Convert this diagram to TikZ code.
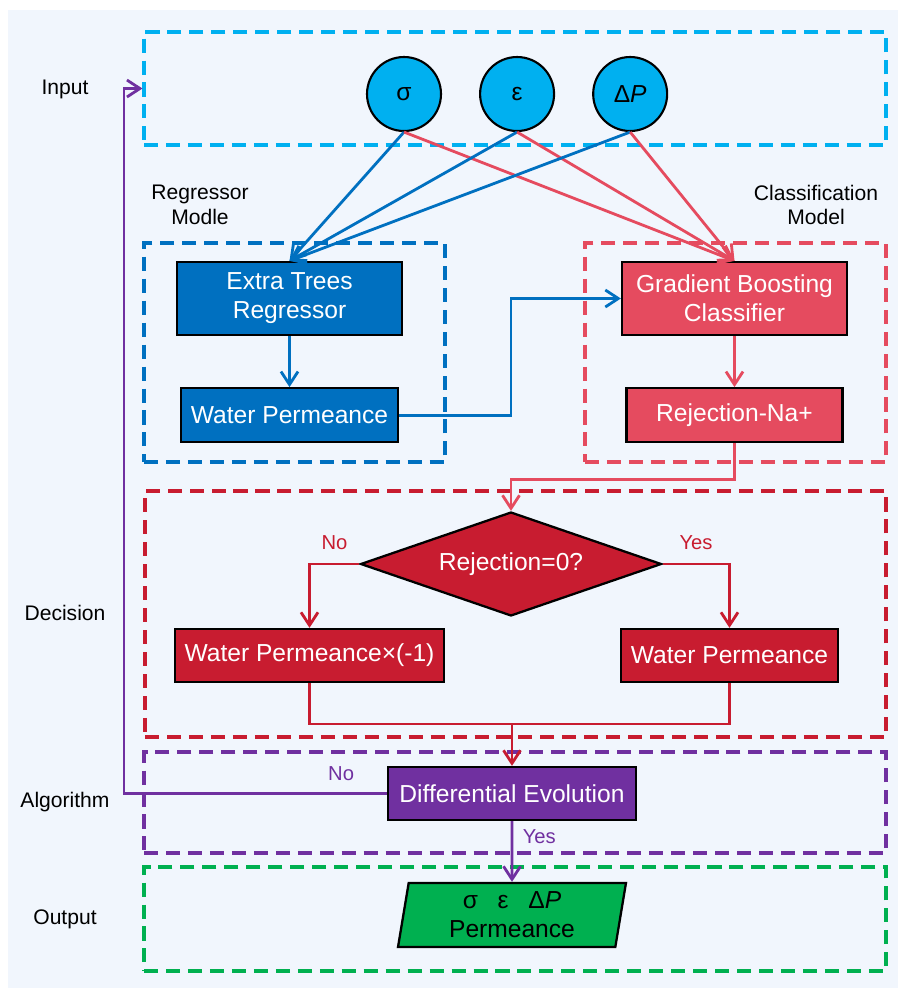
\documentclass[tikz,border=0pt]{standalone}
\usepackage{fontspec}
\setmainfont{Liberation Sans}
\usetikzlibrary{arrows.meta, positioning, shapes.geometric, calc}
\definecolor{cbg}{HTML}{F1F6FD}
\definecolor{cin}{HTML}{00B0F0}
\definecolor{creg}{HTML}{0070C0}
\definecolor{ccls}{HTML}{E54B5F}
\definecolor{cdec}{HTML}{C81C30}
\definecolor{calg}{HTML}{7030A0}
\definecolor{cout}{HTML}{00B050}

\begin{document}
\begin{tikzpicture}[
  x=0.02cm, y=-0.02cm,
  >={Straight Barb[length=2.6mm, width=3.4mm]},
  grp/.style={draw, dash pattern=on 8pt off 4.5pt, line width=1.8pt, inner sep=0pt},
  box/.style={draw=black, line width=1.3pt, text=white, align=center, inner sep=0pt,
              font=\fontsize{14}{16.5}\selectfont},
  var/.style={circle, draw=black, line width=1.2pt, fill=cin, minimum size=1.48cm,
              inner sep=0pt, font=\fontsize{14}{16.5}\selectfont},
  tag/.style={align=center, font=\fontsize{12}{14}\selectfont},
  yn/.style={font=\fontsize{11.5}{13}\selectfont},
  arr/.style={->, line width=1.6pt},
  ]
\useasboundingbox (0,0) rectangle (898,988);
\fill[cbg] (8,10) rectangle (898,988);

\node[grp, draw=cin, minimum width=14.84cm, minimum height=2.26cm] (inbox) at (515,88.5) {};
\node[grp, draw=creg, minimum width=6.02cm, minimum height=4.38cm] (regbox) at (294.5,352.5) {};
\node[grp, draw=ccls, minimum width=6.02cm, minimum height=4.38cm] (clsbox) at (735.5,352.5) {};
\node[grp, draw=cdec, minimum width=14.82cm, minimum height=4.92cm] (decbox) at (515.5,614) {};
\node[grp, draw=calg, minimum width=14.84cm, minimum height=2.02cm] (algbox) at (515,802.5) {};
\node[grp, draw=cout, minimum width=14.84cm, minimum height=2.08cm] (outbox) at (515,919) {};

\node[tag] (tin) at (65,89) {Input};
\node[tag] (treg) at (200,205) {Regressor\\Modle};
\node[tag] (tcls) at (816,205) {Classification\\Model};
\node[tag] (tdec) at (65,613) {Decision};
\node[tag] (talg) at (65,802) {Algorithm};
\node[tag] (tout) at (65,919) {Output};

\node[var] (sig) at (404,94) {σ};
\node[var, right=0.74cm of sig] (eps) {ε};
\node[var, right=0.74cm of eps] (dp) {Δ\textit{P}};

\node[box, fill=creg, minimum width=4.5cm, minimum height=1.46cm] (etr) at (289.5,298.5) {Extra Trees\\Regressor};
\node[box, fill=creg, minimum width=4.34cm, minimum height=1.08cm, below=1.02cm of etr] (wpr) {Water Permeance};
\node[box, fill=ccls, minimum width=4.5cm, minimum height=1.46cm] (gbc) at (734.5,298.5) {Gradient Boosting\\Classifier};
\node[box, fill=ccls, minimum width=4.32cm, minimum height=1.08cm, below=1.02cm of gbc] (rej) {Rejection-Na+};

\node[box, diamond, aspect=2.9, fill=cdec, minimum width=6.02cm, minimum height=2.08cm] (dec) at (511,564) {Rejection=0?};
\node[box, fill=cdec, minimum width=5.38cm, minimum height=1.06cm] (wpneg) at (309.5,655.5) {Water Permeance×(-1)};
\node[box, fill=cdec, minimum width=4.34cm, minimum height=1.06cm] (wpd) at (729.5,655.5) {Water Permeance};
\node[box, fill=calg, minimum width=4.96cm, minimum height=1.06cm] (de) at (512,793.5) {Differential Evolution};
\node[box, trapezium, trapezium left angle=77, trapezium right angle=103, trapezium stretches body,
      fill=cout, text=black, minimum width=4.56cm, minimum height=1.28cm] (res) at (512,915)
      {σ\hspace{0.8em}ε\hspace{0.8em}Δ\textit{P}\\Permeance};

\coordinate (join) at (512,724);
\coordinate (back) at (124,88.5);

\foreach \v in {sig, eps, dp} {
  \draw[arr, creg] (\v.south) -- (etr.north);
  \draw[arr, ccls] (\v.south) -- (gbc.north);
}
\draw[arr, creg] (etr) -- (wpr);
\draw[arr, creg] (wpr.east) -- (wpr.east -| dec.north) |- (gbc.west);
\draw[arr, ccls] (gbc) -- (rej);
\draw[arr, ccls] (rej.south) -- ++(0,36) -| (dec.north);
\draw[arr, cdec] (dec.west) -| node[yn, pos=0.25, above=4pt, text=cdec] {No} (wpneg.north);
\draw[arr, cdec] (dec.east) -| node[yn, pos=0.25, above=4pt, text=cdec] {Yes} (wpd.north);
\draw[cdec, line width=1.6pt] (wpneg.south) |- (join) -| (wpd.south);
\draw[arr, cdec] (join) -- (de.north);
\draw[arr, calg] (de.west) -| node[yn, pos=0.087, above=3pt, text=calg] {No} (back) -- (inbox.west);
\draw[arr, calg] (de) -- node[yn, pos=0.25, right=2pt, text=calg] {Yes} (res);
\end{tikzpicture}
\end{document}
